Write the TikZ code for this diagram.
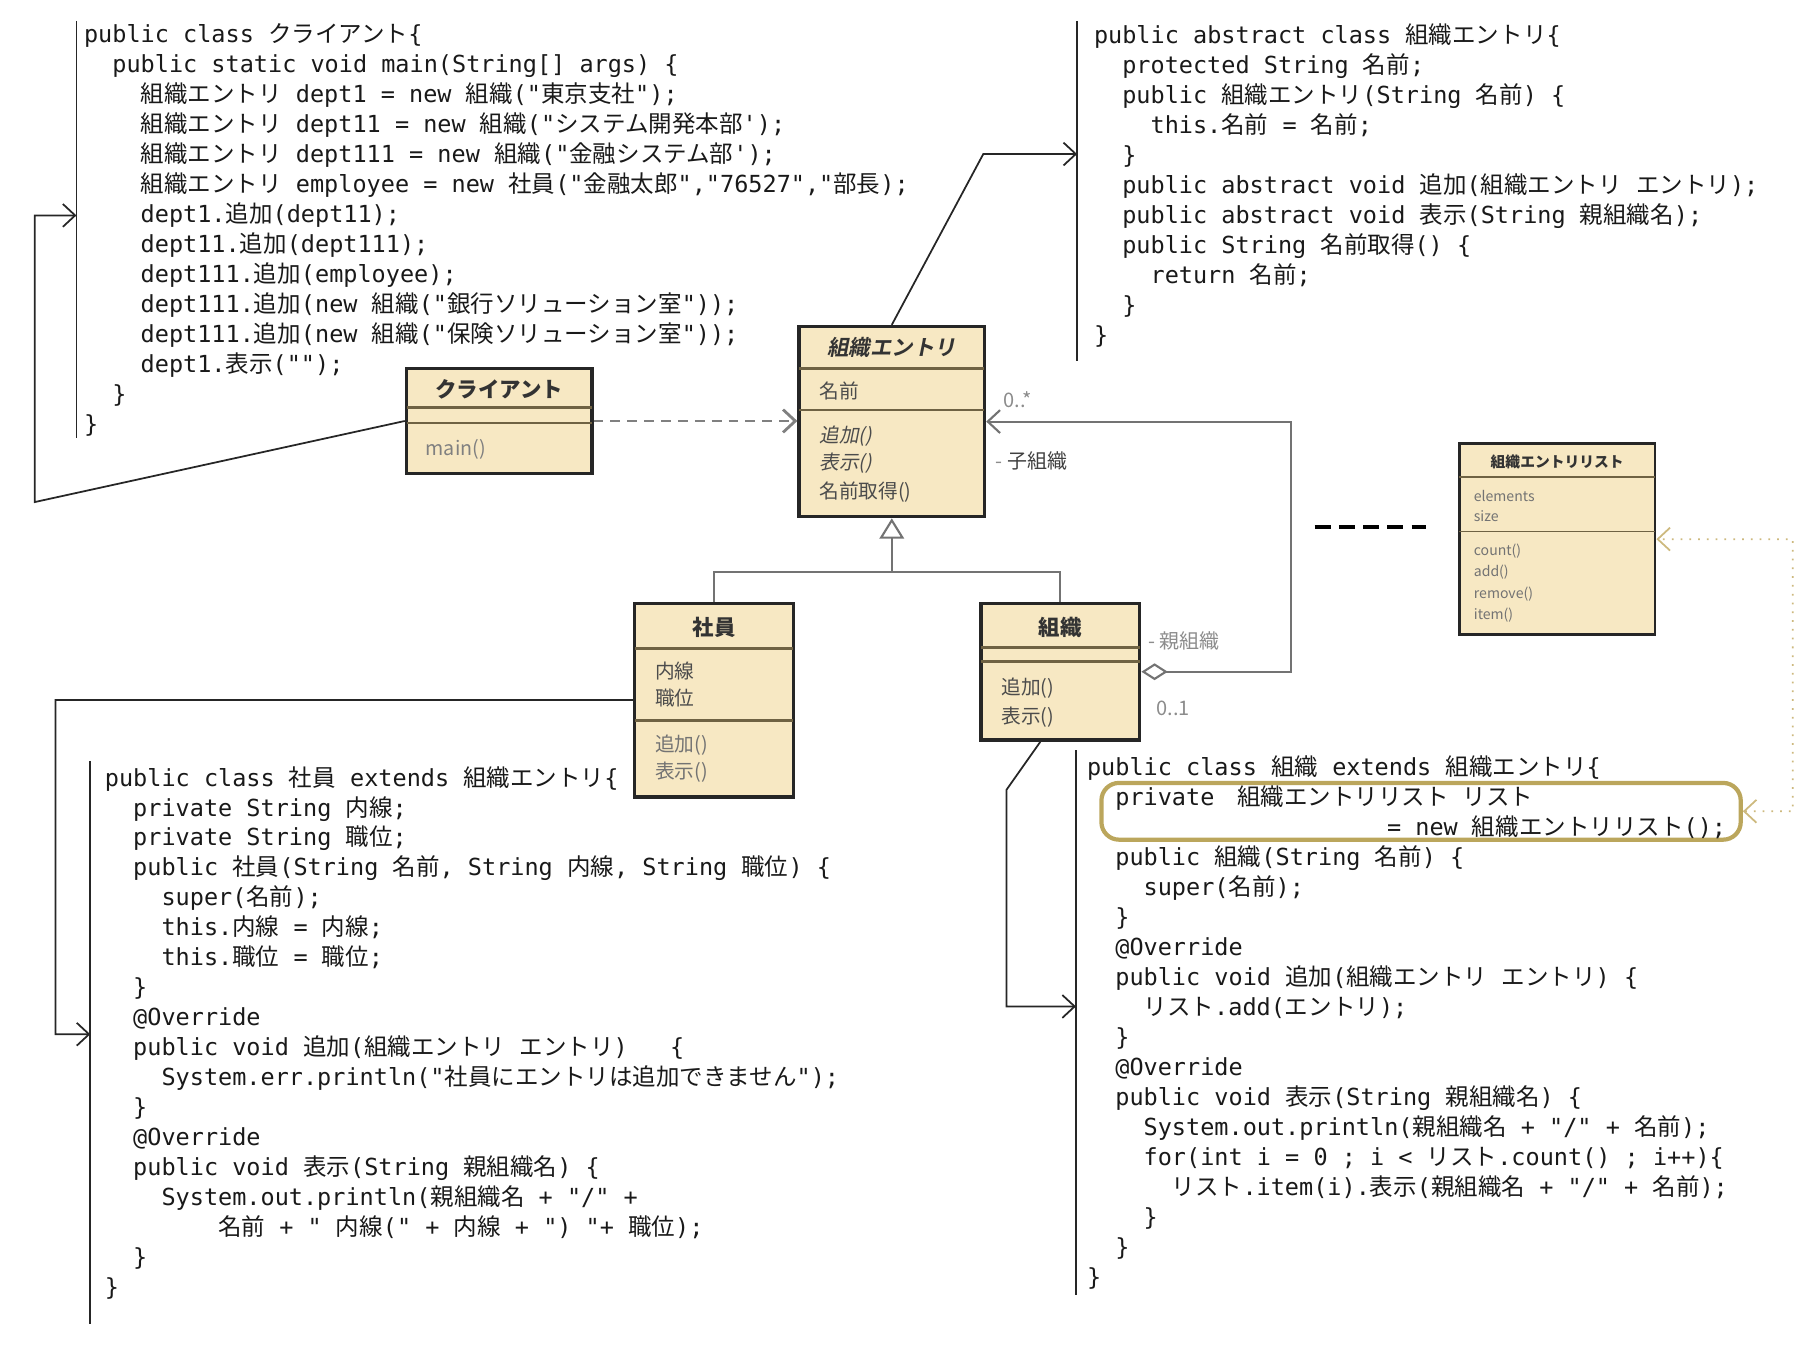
\documentclass[tikz,border=0pt]{standalone}
\usepackage{fontspec}
\setmainfont{Noto Sans CJK JP}[Ligatures=TeXOff, ItalicFont={Noto Sans CJK JP}, ItalicFeatures={FakeSlant=0.2}, BoldItalicFont={* Bold}, BoldItalicFeatures={FakeSlant=0.2}]
\newfontfamily\cjkf{Noto Sans CJK JP}
\newfontfamily\latf{DejaVu Sans Mono}
\usetikzlibrary{arrows.meta,positioning,fit}

\definecolor{umlfill}{HTML}{F7E8C3}
\definecolor{umlsep}{HTML}{6F6243}
\definecolor{hilite}{HTML}{BBA65C}
\definecolor{dotlink}{HTML}{CDB97E}

% kana and kanji get a class of their own, the code switches font on it
\newcount\cjkc
\cjkc="3040 \loop \XeTeXcharclass\cjkc=1 \advance\cjkc 1 \ifnum\cjkc<"3100 \repeat
\cjkc="4E00 \loop \XeTeXcharclass\cjkc=1 \advance\cjkc 1 \ifnum\cjkc<"A000 \repeat
\makeatletter
\XeTeXinterchartoks 0 1 = {\cjkf}
\XeTeXinterchartoks 1 0 = {\latf}
\XeTeXinterchartoks \e@alloc@intercharclass@top 1 = {\cjkf}
\XeTeXinterchartoks 1 \e@alloc@intercharclass@top = {\latf}
\makeatother
\newcommand{\codefont}{\fontsize{6.69pt}{8.53pt}\latf\XeTeXinterchartokenstate=1 }

% indent of the code lines
\newlength\idtw \setlength\idtw{2.83mm}
\newcommand{\idt}[1]{\hspace*{#1\idtw}}

\tikzset{
  code/.style={anchor=north west, inner sep=0pt, align=left, text=black!90, font=\codefont},
  codeline/.style={line width=0.5pt, black!85},
  link/.style={line width=0.5pt, black!85, -{Straight Barb[length=3.5pt,width=6.5pt]}},
  umlbox/.style={draw=black!85, line width=1pt, fill=umlfill, inner sep=0pt},
  sep/.style={umlsep, line width=0.7pt},
  title/.style={inner sep=0pt, font=\fontsize{6.1pt}{7pt}\selectfont\bfseries, text=black!80},
  member/.style={anchor=west, inner sep=0pt, font=\fontsize{5.6pt}{7pt}\selectfont, text=black!70},
  small/.style={anchor=west, inner sep=0pt, font=\fontsize{4pt}{4.5pt}\selectfont, text=black!55},
  role/.style={anchor=west, inner sep=0pt, font=\fontsize{5.7pt}{6pt}\selectfont, text=black!45},
  genline/.style={line width=0.6pt, black!55},
  assoc/.style={line width=0.6pt, black!55},
  dep/.style={line width=0.8pt, black!50, dash pattern=on 2.8pt off 2pt,
    -{Straight Barb[length=3.5pt,width=6.5pt]}},
}

\begin{document}
\begin{tikzpicture}[x=0.01158cm, y=-0.01158cm]
  \useasboundingbox (0,0) rectangle (1568,1167.5);

  % code of the client
  \draw[codeline] (66,18) -- (66,378);
  \node[code] (clicode) at (72,20) {%
    public class クライアント\{\\
    \idt{1}public static void main(String[] args) \{\\
    \idt{2}組織エントリ dept1 = new 組織("東京支社");\\
    \idt{2}組織エントリ dept11 = new 組織("システム開発本部');\\
    \idt{2}組織エントリ dept111 = new 組織("金融システム部');\\
    \idt{2}組織エントリ employee = new 社員("金融太郎","76527","部長);\\
    \idt{2}dept1.追加(dept11);\\
    \idt{2}dept11.追加(dept111);\\
    \idt{2}dept111.追加(employee);\\
    \idt{2}dept111.追加(new 組織("銀行ソリューション室"));\\
    \idt{2}dept111.追加(new 組織("保険ソリューション室"));\\
    \idt{2}dept1.表示("");\\
    \idt{1}\}\\
    \}};

  % code of the abstract class
  \draw[codeline] (930,18) -- (930,312);
  \node[code] (abscode) at (944,20) {%
    public abstract class 組織エントリ\{\\
    \idt{1}protected String 名前;\\
    \idt{1}public 組織エントリ(String 名前) \{\\
    \idt{2}this.名前 = 名前;\\
    \idt{1}\}\\
    \idt{1}public abstract void 追加(組織エントリ エントリ);\\
    \idt{1}public abstract void 表示(String 親組織名);\\
    \idt{1}public String 名前取得() \{\\
    \idt{2}return 名前;\\
    \idt{1}\}\\
    \}};

  % code of the employee
  \draw[codeline] (78,657) -- (78,1143);
  \node[code] (empcode) at (90,661) {%
    public class 社員 extends 組織エントリ\{\\
    \idt{1}private String 内線;\\
    \idt{1}private String 職位;\\
    \idt{1}public 社員(String 名前, String 内線, String 職位) \{\\
    \idt{2}super(名前);\\
    \idt{2}this.内線 = 内線;\\
    \idt{2}this.職位 = 職位;\\
    \idt{1}\}\\
    \idt{1}@Override\\
    \idt{1}public void 追加(組織エントリ エントリ)\idt{1.5}\{\\
    \idt{2}System.err.println("社員にエントリは追加できません");\\
    \idt{1}\}\\
    \idt{1}@Override\\
    \idt{1}public void 表示(String 親組織名) \{\\
    \idt{2}System.out.println(親組織名 + "/" +\\
    \idt{4}名前 + " 内線(" + 内線 + ") "+ 職位);\\
    \idt{1}\}\\
    \}};

  % code of the organisation
  \draw[codeline] (929,648) -- (929,1118);
  \node[draw=hilite, line width=1.2pt, rounded corners=5pt, inner sep=0pt,
    fit={(951,676) (1503,725)}] (hl) {};
  \node[code] (orgcode) at (938,652) {%
    public class 組織 extends 組織エントリ\{\\
    \idt{1}private\idt{0.3} 組織エントリリスト リスト\\
    \idt{10.6}= new 組織エントリリスト();\\
    \idt{1}public 組織(String 名前) \{\\
    \idt{2}super(名前);\\
    \idt{1}\}\\
    \idt{1}@Override\\
    \idt{1}public void 追加(組織エントリ エントリ) \{\\
    \idt{2}リスト.add(エントリ);\\
    \idt{1}\}\\
    \idt{1}@Override\\
    \idt{1}public void 表示(String 親組織名) \{\\
    \idt{2}System.out.println(親組織名 + "/" + 名前);\\
    \idt{2}for(int i = 0 ; i < リスト.count() ; i++)\{\\
    \idt{3}リスト.item(i).表示(親組織名 + "/" + 名前);\\
    \idt{2}\}\\
    \idt{1}\}\\
    \}};

  % class boxes
  \node[umlbox, fit={(351,318) (511,409)}] (client) {};
  \draw[sep] (351,352) -- (511,352) (351,365) -- (511,365);
  \node[title] (client-t) at (431,336) {クライアント};
  \node[member, text=black!50] (client-m) at (367,388) {main()};

  \node[umlbox, fit={(690,282) (850,446)}] (entry) {};
  \draw[sep] (690,318) -- (850,318) (690,354) -- (850,354);
  \node[title, font=\fontsize{6.1pt}{7pt}\selectfont\bfseries\itshape] (entry-t) at (770,300) {組織エントリ};
  \node[member] (entry-a) at (707,338) {名前};
  \node[member, font=\fontsize{5.6pt}{7pt}\selectfont\itshape] (entry-m1) at (707,377) {追加()};
  \node[member, font=\fontsize{5.6pt}{7pt}\selectfont\itshape] (entry-m2) at (707,400) {表示()};
  \node[member] (entry-m3) at (707,425) {名前取得()};

  \node[umlbox, fit={(548,521) (685,688)}] (emp) {};
  \draw[sep] (548,560) -- (685,560) (548,622) -- (685,622);
  \node[title] (emp-t) at (616.5,542) {社員};
  \node[member] (emp-a1) at (565,579) {内線};
  \node[member] (emp-a2) at (565,603) {職位};
  \node[member, text=black!55] (emp-m1) at (565,643) {追加()};
  \node[member, text=black!55] (emp-m2) at (565,667) {表示()};

  \node[umlbox, fit={(847,521) (984,639)}] (org) {};
  \draw[sep] (847,559) -- (984,559) (847,571) -- (984,571);
  \node[title] (org-t) at (915.5,542) {組織};
  \node[member] (org-m1) at (864,594) {追加()};
  \node[member] (org-m2) at (864,619) {表示()};

  \node[umlbox, line width=0.8pt, fit={(1260,383) (1429,548)}] (list) {};
  \draw[sep, line width=0.5pt] (1260,412) -- (1429,412) (1260,459) -- (1429,459);
  \node[title, font=\fontsize{4.2pt}{5pt}\selectfont\bfseries] (list-t) at (1344.5,399) {組織エントリリスト};
  \node[small] (list-a1) at (1272,428) {elements};
  \node[small] (list-a2) at (1272,446) {size};
  \node[small] (list-m1) at (1272,476) {count()};
  \node[small] (list-m2) at (1272,494) {add()};
  \node[small] (list-m3) at (1272,513) {remove()};
  \node[small] (list-m4) at (1272,531) {item()};

  % relations between the classes
  \draw[dep] (client.east) -- (client.east -| entry.west);
  \coordinate (joint) at (770,494);
  \draw[genline] (emp.north) |- (joint) -| (org.north);
  \draw[genline, -{Triangle[open, length=5.8pt, width=7pt]}] (joint) -- (entry.south);
  \coordinate (turn) at (1115,580);
  \draw[assoc, {Diamond[open, length=7.5pt, width=4.8pt]}-{Straight Barb[length=3.5pt,width=6.5pt]}]
    (org.east) -- (turn) |- (entry.east);
  \node[role] (many) at (866,345) {0..*};
  \node[role] (child) at (859,398) {- \textcolor{black!75}{子組織}};
  \node[role] (parent) at (991,553) {- 親組織};
  \node[role] (one) at (998,612) {0..1};

  % from the classes to their code
  \coordinate (cbend) at (30,433.5);
  \coordinate (clitip) at (66,186);
  \draw[link] (client.west) -- (cbend) |- (clitip);
  \coordinate (abend) at (849,133);
  \coordinate (abstip) at (930,133);
  \draw[link] (entry.north) -- (abend) -- (abstip);
  \coordinate (ebend) at (48,604.5);
  \coordinate (emptip) at (78,893);
  \draw[link] (emp.west) -- (ebend) |- (emptip);
  \coordinate (obend) at (869,682);
  \coordinate (orgtip) at (929,869);
  \draw[link] ([xshift=-0.2cm]org.south) -- (obend) |- (orgtip);

  % list of the entries
  \coordinate (lbend) at (1548,700.5);
  \draw[dotlink, line width=0.5pt, dotted,
    {Straight Barb[length=3.5pt,width=6.5pt]}-{Straight Barb[length=3.5pt,width=6.5pt]}]
    (hl.east) -- (lbend) |- (list.east);
  \draw[line width=1.3pt, dash pattern=on 4.6pt off 2.3pt] (1135,455) -- (1231,455);
\end{tikzpicture}
\end{document}
